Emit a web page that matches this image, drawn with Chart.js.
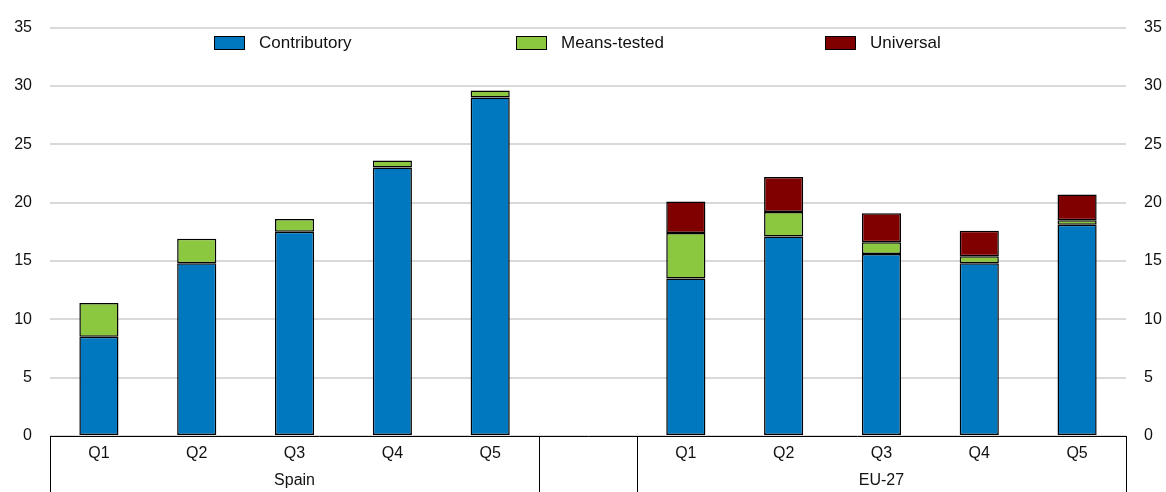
<!DOCTYPE html>
<html>
<head>
<meta charset="utf-8">
<script src="https://cdn.jsdelivr.net/npm/chart.js@4"></script>
<style>
  body { margin: 0; background: #fff; }
  #wrap { position: relative; width: 1166px; height: 492px; }
  .leg { position: absolute; top: 33px; font: 17px 'Liberation Sans Narrow', 'Arial Narrow', 'Liberation Sans', sans-serif; color: #111; display: flex; align-items: center; }
  .leg span.box { display: inline-block; width: 29px; height: 12px; border: 1px solid #000; margin-right: 14px; }
</style>
</head>
<body>
<div id="wrap">
  <canvas id="barChart" width="1166" height="492"></canvas>
  <div class="leg" style="left:214px"><span class="box" style="background:#0078bf"></span>Contributory</div>
  <div class="leg" style="left:516px"><span class="box" style="background:#8cc83f"></span>Means-tested</div>
  <div class="leg" style="left:825px"><span class="box" style="background:#800000"></span>Universal</div>
</div>
<script>
// Du lieu bieu do
const quintiles = ['Q1', 'Q2', 'Q3', 'Q4', 'Q5', '', 'Q1', 'Q2', 'Q3', 'Q4', 'Q5'];
const groups = [
    { name: 'Spain', from: 0, to: 4 },
    { name: '', from: 5, to: 5 },
    { name: 'EU-27', from: 6, to: 10 }
];
const contributory = [8.5, 14.8, 17.5, 23.0, 29.0, null, 13.5, 17.1, 15.6, 14.8, 18.1];
const meansTested  = [2.9, 2.1, 1.1, 0.6, 0.6, null, 3.9, 2.1, 1.0, 0.6, 0.4];
const universal    = [0, 0, 0, 0, 0, null, 2.7, 3.0, 2.5, 2.2, 2.2];
const yTicks = [0, 5, 10, 15, 20, 25, 30, 35];

const FONT = "'Liberation Sans Narrow', 'Arial Narrow', 'Liberation Sans', sans-serif";

// Ve nhom nhan (Spain / EU-27) va cac duong ngan cach duoi truc x
const groupPlugin = {
    id: 'groupLabels',
    afterDraw(chart) {
        const ctx = chart.ctx;
        const x = chart.scales.x;
        const area = chart.chartArea;
        const step = x.getPixelForValue(1) - x.getPixelForValue(0);
        const bottom = chart.height;
        ctx.save();
        ctx.strokeStyle = '#000';
        ctx.lineWidth = 1;
        ctx.fillStyle = '#111';
        ctx.font = '16px ' + FONT;
        ctx.textAlign = 'center';
        ctx.textBaseline = 'middle';
        groups.forEach(g => {
            const l = x.getPixelForValue(g.from) - step / 2;
            const r = x.getPixelForValue(g.to) + step / 2;
            [l, r].forEach(px => {
                ctx.beginPath();
                ctx.moveTo(Math.round(px) + 0.5, area.bottom);
                ctx.lineTo(Math.round(px) + 0.5, bottom);
                ctx.stroke();
            });
            if (g.name) ctx.fillText(g.name, (l + r) / 2, 481);
        });
        ctx.restore();
    }
};

const yTickOpts = {
    color: '#111',
    font: { size: 16, family: FONT },
    stepSize: 5,
    callback: v => yTicks.includes(v) ? v : ''
};

const ctxBar = document.getElementById('barChart').getContext('2d');
const barChart = new Chart(ctxBar, {
    type: 'bar',
    data: {
        labels: quintiles,
        datasets: [
            { label: 'Contributory', data: contributory, backgroundColor: '#0078bf' },
            { label: 'Means-tested', data: meansTested, backgroundColor: '#8cc83f' },
            { label: 'Universal', data: universal, backgroundColor: '#800000' }
        ].map(d => Object.assign(d, {
            borderColor: '#000',
            borderWidth: 1.5,
            borderSkipped: false,
            barPercentage: 0.4,
            categoryPercentage: 1
        }))
    },
    options: {
        responsive: false,
        animation: false,
        layout: { padding: { top: 27, bottom: 0, left: 0, right: 0 } },
        plugins: {
            legend: { display: false },
            tooltip: { enabled: false }
        },
        scales: {
            x: {
                stacked: true,
                grid: { display: false },
                border: { display: true, color: '#000', width: 1 },
                ticks: { color: '#111', font: { size: 16, family: FONT }, padding: 0, maxRotation: 0, autoSkip: false },
                afterFit(s) { s.height = 56; }
            },
            y: {
                stacked: true,
                min: 0,
                max: 35,
                position: 'left',
                grid: { color: '#d9d9d9', lineWidth: 2, drawTicks: false },
                border: { display: false },
                ticks: Object.assign({ padding: 18 }, yTickOpts),
                afterFit(s) { s.width = 50; }
            },
            y2: {
                min: 0,
                max: 35,
                position: 'right',
                grid: { display: false, drawTicks: false },
                border: { display: false },
                ticks: Object.assign({ padding: 18 }, yTickOpts),
                afterFit(s) { s.width = 40; }
            }
        }
    },
    plugins: [groupPlugin]
});
</script>
</body>
</html>
